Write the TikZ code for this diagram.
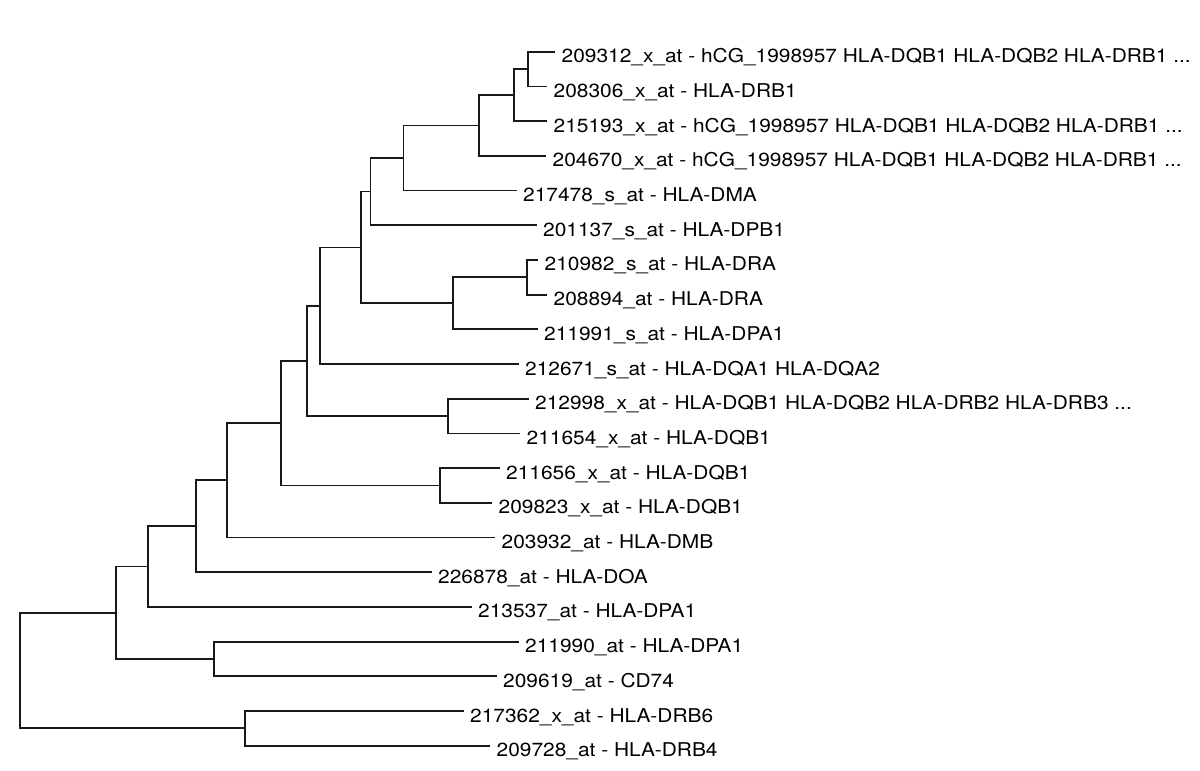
\documentclass[tikz,border=0pt]{standalone}
\usepackage{fontspec}
\setmainfont{TeX Gyre Heros}[FakeStretch=1.1]
\begin{document}
\begin{tikzpicture}[x=1pt,y=-1pt,
  branch/.style={draw=black!90,line width=1.8pt,line join=miter},
  leaflabel/.style={anchor=base west,inner sep=0pt,text=black,font=\fontsize{19pt}{22pt}\selectfont}]
\useasboundingbox[fill=white] (0,0) rectangle (1200,771);
% leaf ends
\coordinate (e0) at (555,51.7);
\coordinate (e1) at (547,86.4);
\coordinate (e2) at (547,121.1);
\coordinate (e3) at (546,155.8);
\coordinate (e4) at (516.5,190.5);
\coordinate (e5) at (536.5,225.2);
\coordinate (e6) at (538,259.9);
\coordinate (e7) at (547,294.6);
\coordinate (e8) at (537.5,329.3);
\coordinate (e9) at (518.5,364);
\coordinate (e10) at (528.5,398.7);
\coordinate (e11) at (520,433.4);
\coordinate (e12) at (499.5,468.1);
\coordinate (e13) at (492,502.8);
\coordinate (e14) at (495,537.5);
\coordinate (e15) at (431.5,572.2);
\coordinate (e16) at (471.5,606.9);
\coordinate (e17) at (518.5,641.6);
\coordinate (e18) at (496.5,676.3);
\coordinate (e19) at (463.5,711);
\coordinate (e20) at (490,745.7);
% internal nodes
\coordinate (n1) at (528.3,69.05);
\coordinate (n2) at (514.3,95.1);
\coordinate (n3) at (479.3,125.45);
\coordinate (n4) at (403.5,157.98);
\coordinate (n5) at (370.5,191.59);
\coordinate (n6) at (526.7,277.25);
\coordinate (n7) at (453.3,303.28);
\coordinate (n8) at (361,247.43);
\coordinate (n9) at (319.6,305.72);
\coordinate (n10) at (448.3,416.05);
\coordinate (n11) at (307,360.88);
\coordinate (n12) at (440,485.45);
\coordinate (n13) at (281,423.17);
\coordinate (n14) at (227,480.33);
\coordinate (n15) at (196.3,526.27);
\coordinate (n16) at (147.7,566.58);
\coordinate (n17) at (214.3,658.95);
\coordinate (n18) at (116.3,612.77);
\coordinate (n19) at (245,728.35);
\coordinate (root) at (20.3,670.56);
% branches
\draw[branch] (n1) |- (e0) (n1) |- (e1);
\draw[branch] (n2) |- (n1) (n2) |- (e2);
\draw[branch] (n3) |- (n2) (n3) |- (e3);
\draw[branch] (n4) |- (n3) (n4) |- (e4);
\draw[branch] (n5) |- (n4) (n5) |- (e5);
\draw[branch] (n6) |- (e6) (n6) |- (e7);
\draw[branch] (n7) |- (n6) (n7) |- (e8);
\draw[branch] (n8) |- (n5) (n8) |- (n7);
\draw[branch] (n9) |- (n8) (n9) |- (e9);
\draw[branch] (n10) |- (e10) (n10) |- (e11);
\draw[branch] (n11) |- (n9) (n11) |- (n10);
\draw[branch] (n12) |- (e12) (n12) |- (e13);
\draw[branch] (n13) |- (n11) (n13) |- (n12);
\draw[branch] (n14) |- (n13) (n14) |- (e14);
\draw[branch] (n15) |- (n14) (n15) |- (e15);
\draw[branch] (n16) |- (n15) (n16) |- (e16);
\draw[branch] (n17) |- (e17) (n17) |- (e18);
\draw[branch] (n18) |- (n16) (n18) |- (n17);
\draw[branch] (n19) |- (e19) (n19) |- (e20);
\draw[branch] (root) |- (n18) (root) |- (n19);
% labels
\node[leaflabel] (t0) at ([xshift=6.5pt,yshift=-11pt]e0) {209312\_x\_at - hCG\_1998957 HLA-DQB1 HLA-DQB2 HLA-DRB1 ...};
\node[leaflabel] (t1) at ([xshift=6.5pt,yshift=-11pt]e1) {208306\_x\_at - HLA-DRB1};
\node[leaflabel] (t2) at ([xshift=6.5pt,yshift=-11pt]e2) {215193\_x\_at - hCG\_1998957 HLA-DQB1 HLA-DQB2 HLA-DRB1 ...};
\node[leaflabel] (t3) at ([xshift=6.5pt,yshift=-11pt]e3) {204670\_x\_at - hCG\_1998957 HLA-DQB1 HLA-DQB2 HLA-DRB1 ...};
\node[leaflabel] (t4) at ([xshift=6.5pt,yshift=-11pt]e4) {217478\_s\_at - HLA-DMA};
\node[leaflabel] (t5) at ([xshift=6.5pt,yshift=-11pt]e5) {201137\_s\_at - HLA-DPB1};
\node[leaflabel] (t6) at ([xshift=6.5pt,yshift=-11pt]e6) {210982\_s\_at - HLA-DRA};
\node[leaflabel] (t7) at ([xshift=6.5pt,yshift=-11pt]e7) {208894\_at - HLA-DRA};
\node[leaflabel] (t8) at ([xshift=6.5pt,yshift=-11pt]e8) {211991\_s\_at - HLA-DPA1};
\node[leaflabel] (t9) at ([xshift=6.5pt,yshift=-11pt]e9) {212671\_s\_at - HLA-DQA1 HLA-DQA2};
\node[leaflabel] (t10) at ([xshift=6.5pt,yshift=-11pt]e10) {212998\_x\_at - HLA-DQB1 HLA-DQB2 HLA-DRB2 HLA-DRB3 ...};
\node[leaflabel] (t11) at ([xshift=6.5pt,yshift=-11pt]e11) {211654\_x\_at - HLA-DQB1};
\node[leaflabel] (t12) at ([xshift=6.5pt,yshift=-11pt]e12) {211656\_x\_at - HLA-DQB1};
\node[leaflabel] (t13) at ([xshift=6.5pt,yshift=-11pt]e13) {209823\_x\_at - HLA-DQB1};
\node[leaflabel] (t14) at ([xshift=6.5pt,yshift=-11pt]e14) {203932\_at - HLA-DMB};
\node[leaflabel] (t15) at ([xshift=6.5pt,yshift=-11pt]e15) {226878\_at - HLA-DOA};
\node[leaflabel] (t16) at ([xshift=6.5pt,yshift=-11pt]e16) {213537\_at - HLA-DPA1};
\node[leaflabel] (t17) at ([xshift=6.5pt,yshift=-11pt]e17) {211990\_at - HLA-DPA1};
\node[leaflabel] (t18) at ([xshift=6.5pt,yshift=-11pt]e18) {209619\_at - CD74};
\node[leaflabel] (t19) at ([xshift=6.5pt,yshift=-11pt]e19) {217362\_x\_at - HLA-DRB6};
\node[leaflabel] (t20) at ([xshift=6.5pt,yshift=-11pt]e20) {209728\_at - HLA-DRB4};
\end{tikzpicture}
\end{document}
